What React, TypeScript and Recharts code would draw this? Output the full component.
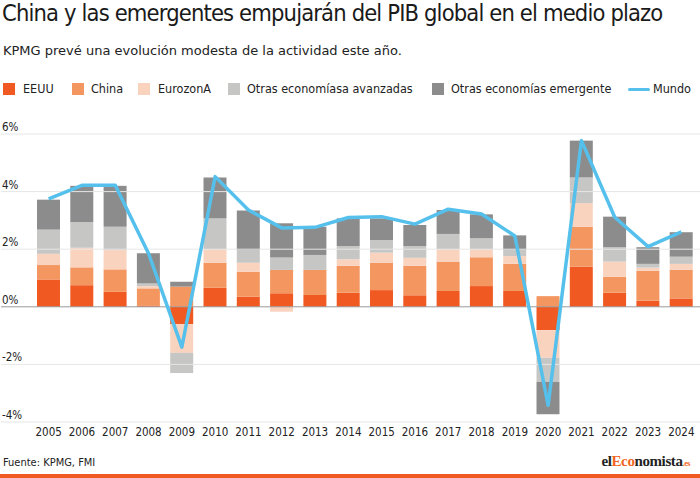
import React from "react";
import {
  ComposedChart,
  Bar,
  Line,
  XAxis,
  YAxis,
  ReferenceLine,
} from "recharts";

const years = ["2005","2006","2007","2008","2009","2010","2011","2012","2013","2014","2015","2016","2017","2018","2019","2020","2021","2022","2023","2024"];
const eeuu = [0.95, 0.75, 0.52, 0.03, -0.6, 0.66, 0.35, 0.47, 0.41, 0.49, 0.58, 0.4, 0.55, 0.72, 0.55, -0.81, 1.39, 0.49, 0.21, 0.29];
const china = [0.5, 0.62, 0.78, 0.61, 0.7, 0.87, 0.87, 0.81, 0.87, 0.93, 0.95, 1.02, 1.02, 1.0, 0.94, 0.37, 1.39, 0.55, 1.04, 0.99];
const eurozona = [0.39, 0.68, 0.67, 0.08, -1.0, 0.47, 0.31, -0.17, 0.0, 0.23, 0.35, 0.28, 0.43, 0.28, 0.27, -0.96, 0.82, 0.53, 0.11, 0.21];
const avanzadas = [0.84, 0.89, 0.81, 0.09, -0.7, 1.07, 0.44, 0.43, 0.52, 0.46, 0.44, 0.41, 0.53, 0.38, 0.22, -0.84, 0.89, 0.5, 0.13, 0.25];
const emergentes = [1.04, 1.26, 1.42, 1.05, 0.17, 1.42, 1.37, 1.19, 0.98, 0.96, 0.75, 0.73, 0.83, 0.83, 0.5, -1.12, 1.28, 1.06, 0.58, 0.85];
const mundo = [3.75, 4.22, 4.22, 1.85, -1.4, 4.52, 3.36, 2.74, 2.76, 3.1, 3.13, 2.87, 3.39, 3.22, 2.46, -3.42, 5.77, 3.11, 2.09, 2.6];
const yTicks = [-4, -2, 0, 2, 4, 6];

const title = "China y las emergentes empujarán del PIB global en el medio plazo";
const subtitle = "KPMG prevé una evolución modesta de la actividad este año.";
const source = "Fuente: KPMG, FMI";

const C_EEUU = "#F05A22";
const C_CHINA = "#F4965F";
const C_EURO = "#FAD3BF";
const C_AVZ = "#C6C6C4";
const C_EMG = "#8C8C8C";
const C_MUNDO = "#55C0EB";

const legendItems = [
  { label: "EEUU", color: C_EEUU, type: "rect", mx: 3, tx: 23 },
  { label: "China", color: C_CHINA, type: "rect", mx: 72, tx: 91 },
  { label: "EurozonA", color: C_EURO, type: "rect", mx: 138, tx: 158 },
  { label: "Otras economíasa avanzadas", color: C_AVZ, type: "rect", mx: 228, tx: 247 },
  { label: "Otras economías emergente", color: C_EMG, type: "rect", mx: 432, tx: 451 },
  { label: "Mundo", color: C_MUNDO, type: "line", mx: 628, tx: 653 },
];

const data = years.map((y, i) => ({
  year: y,
  eeuu: eeuu[i],
  china: china[i],
  eurozona: eurozona[i],
  avanzadas: avanzadas[i],
  emergentes: emergentes[i],
  mundo: mundo[i],
}));

const FONT = "'DejaVu Sans Condensed', 'DejaVu Sans', sans-serif";

const XTick = (props: any) => {
  const { x, payload } = props;
  return (
    <text x={x} y={436} textAnchor="middle" fontSize={11.5} fill="#222" fontFamily={FONT}>
      {payload.value}
    </text>
  );
};

const YTick = (props: any) => {
  const { y, payload } = props;
  return (
    <text x={2} y={y - 3} textAnchor="start" fontSize={11.5} fill="#222" fontFamily={FONT}>
      {payload.value + "%"}
    </text>
  );
};

export default function App() {
  return (
    <div
      style={{
        position: "absolute",
        left: 0,
        top: 0,
        width: 700,
        height: 478,
        background: "#fff",
        fontFamily: FONT,
        overflow: "hidden",
      }}
    >
      <div style={{ position: "absolute", left: 0, top: 0 }}>
        <ComposedChart
          width={700}
          height={478}
          data={data}
          stackOffset="sign"
          margin={{ top: 134, right: 0, bottom: 36, left: 0 }}
        >
          <XAxis
            dataKey="year"
            axisLine={false}
            tickLine={false}
            height={20}
            padding={{ left: 31, right: 2 }}
            tick={<XTick />}
            interval={0}
          />
          <YAxis
            width={1}
            domain={[-4, 6]}
            ticks={yTicks}
            axisLine={false}
            tickLine={false}
            tick={<YTick />}
            interval={0}
          />
          <Bar dataKey="eeuu" stackId="a" fill={C_EEUU} barSize={23} isAnimationActive={false} />
          <Bar dataKey="china" stackId="a" fill={C_CHINA} barSize={23} isAnimationActive={false} />
          <Bar dataKey="eurozona" stackId="a" fill={C_EURO} barSize={23} isAnimationActive={false} />
          <Bar dataKey="avanzadas" stackId="a" fill={C_AVZ} barSize={23} isAnimationActive={false} />
          <Bar dataKey="emergentes" stackId="a" fill={C_EMG} barSize={23} isAnimationActive={false} />
          {[-4, -2, 2, 4, 6].map((v) => (
            <ReferenceLine key={v} y={v} stroke="#E6E6E6" strokeWidth={1} />
          ))}
          <ReferenceLine y={0} stroke="#9A9A9A" strokeWidth={1} />
          <Line
            type="linear"
            dataKey="mundo"
            stroke={C_MUNDO}
            strokeWidth={3.5}
            dot={false}
            strokeLinejoin="round"
            isAnimationActive={false}
          />
        </ComposedChart>
      </div>

      <div
        style={{
          position: "absolute",
          left: 2,
          top: 0,
          fontSize: 23.5,
          lineHeight: "26px",
          color: "#1a1a1a",
          whiteSpace: "nowrap",
          fontWeight: 400,
          letterSpacing: -0.85,
        }}
      >
        {title}
      </div>
      <div
        style={{
          position: "absolute",
          left: 3,
          top: 43,
          fontSize: 13,
          fontFamily: "'DejaVu Sans', sans-serif",
          color: "#222",
          whiteSpace: "nowrap",
        }}
      >
        {subtitle}
      </div>

      {legendItems.map((it) => (
        <React.Fragment key={it.label}>
          {it.type === "rect" ? (
            <div
              style={{
                position: "absolute",
                left: it.mx,
                top: 83,
                width: 12,
                height: 12,
                background: it.color,
              }}
            />
          ) : (
            <div
              style={{
                position: "absolute",
                left: it.mx,
                top: 88,
                width: 22,
                height: 3,
                borderRadius: 2,
                background: it.color,
              }}
            />
          )}
          <div
            style={{
              position: "absolute",
              left: it.tx,
              top: 81,
              fontSize: 12.5,
              lineHeight: "16px",
              color: "#222",
              whiteSpace: "nowrap",
            }}
          >
            {it.label}
          </div>
        </React.Fragment>
      ))}

      <div
        style={{
          position: "absolute",
          left: 3,
          top: 456,
          fontSize: 11,
          color: "#222",
          whiteSpace: "nowrap",
        }}
      >
        {source}
      </div>
      <div
        style={{
          position: "absolute",
          right: 10,
          top: 453,
          fontSize: 15,
          fontWeight: 700,
          fontFamily: "'Liberation Serif', 'DejaVu Serif', serif",
          color: "#222",
          whiteSpace: "nowrap",
          letterSpacing: -0.4,
        }}
      >
        <span>el</span>
        <span style={{ color: "#F26522" }}>Eco</span>
        <span>nomista</span>
        <span style={{ color: "#F26522", fontSize: 8 }}>.es</span>
      </div>
      <div
        style={{
          position: "absolute",
          left: 0,
          top: 474,
          width: 700,
          height: 4,
          background: "#F15A22",
        }}
      />
    </div>
  );
}
